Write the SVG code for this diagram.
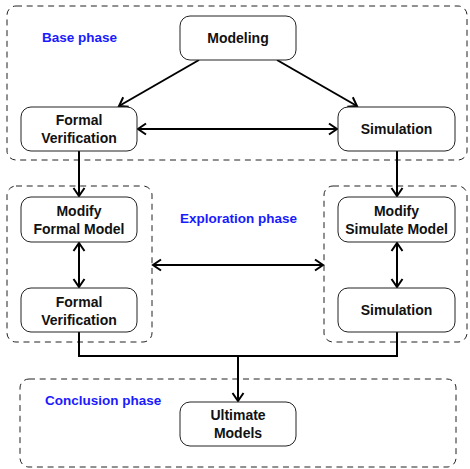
<svg xmlns="http://www.w3.org/2000/svg" width="470" height="469" viewBox="0 0 470 469">
<style>
.phase{fill:none;stroke:#222;stroke-width:1;stroke-dasharray:6,4.7}
.node rect{fill:#fff;stroke:#222;stroke-width:1}
.node text{font-family:"Liberation Sans",Arial,sans-serif;font-weight:bold;font-size:14px;fill:#111;text-anchor:middle}
.label{font-family:"Liberation Sans",Arial,sans-serif;font-weight:bold;font-size:13.5px;fill:#1a1aff}
.conn{fill:none;stroke:#000;stroke-width:2}
</style>
<defs>
<marker id="arr" markerUnits="userSpaceOnUse" markerWidth="12" markerHeight="14" viewBox="-9 -7 12 14" refX="0" refY="0" orient="auto-start-reverse">
<path d="M -8 -5.5 L 0 0 L -8 5.5" fill="none" stroke="#000" stroke-width="2"/>
</marker>
</defs>
<rect width="470" height="469" fill="#fff"/>
<g id="phases">
<rect class="phase" x="7" y="6" width="460" height="154" rx="9"/>
<rect class="phase" x="7" y="186" width="145" height="156" rx="9"/>
<rect class="phase" x="324" y="186" width="143" height="156" rx="9"/>
<rect class="phase" x="20" y="379" width="436" height="88" rx="9"/>
<text class="label" x="42" y="42">Base phase</text>
<text class="label" x="180" y="223">Exploration phase</text>
<text class="label" x="45" y="405">Conclusion phase</text>
</g>
<g id="connectors">
<line class="conn" x1="199" y1="60" x2="119" y2="106" marker-end="url(#arr)"/>
<line class="conn" x1="277" y1="60" x2="357" y2="106" marker-end="url(#arr)"/>
<line class="conn" x1="138" y1="129" x2="337" y2="129" marker-start="url(#arr)" marker-end="url(#arr)"/>
<line class="conn" x1="79" y1="151" x2="79" y2="196" marker-end="url(#arr)"/>
<line class="conn" x1="397" y1="151" x2="397" y2="196" marker-end="url(#arr)"/>
<line class="conn" x1="79" y1="243" x2="79" y2="287" marker-start="url(#arr)" marker-end="url(#arr)"/>
<line class="conn" x1="397" y1="243" x2="397" y2="287" marker-start="url(#arr)" marker-end="url(#arr)"/>
<line class="conn" x1="153" y1="265" x2="323" y2="265" marker-start="url(#arr)" marker-end="url(#arr)"/>
<polyline class="conn" points="79,332 79,356 397,356 397,332"/>
<line class="conn" x1="238" y1="356" x2="238" y2="401" marker-end="url(#arr)"/>
</g>
<g id="modeling" class="node"><rect x="180" y="16" width="116" height="44" rx="10"/><text x="238" y="43">Modeling</text></g>
<g id="fv1" class="node"><rect x="21" y="107" width="116" height="44" rx="10"/><text x="79" y="125">Formal</text><text x="79" y="143">Verification</text></g>
<g id="sim1" class="node"><rect x="338" y="107" width="117" height="44" rx="10"/><text x="396.5" y="134">Simulation</text></g>
<g id="mfm" class="node"><rect x="21" y="197" width="116" height="45" rx="10"/><text x="79" y="216">Modify</text><text x="79" y="234">Formal Model</text></g>
<g id="fv2" class="node"><rect x="21" y="288" width="116" height="44" rx="10"/><text x="79" y="307">Formal</text><text x="79" y="325">Verification</text></g>
<g id="msm" class="node"><rect x="338" y="197" width="117" height="45" rx="10"/><text x="396.5" y="216">Modify</text><text x="396.5" y="234">Simulate Model</text></g>
<g id="sim2" class="node"><rect x="338" y="288" width="117" height="44" rx="10"/><text x="396.5" y="315">Simulation</text></g>
<g id="ultimate" class="node"><rect x="180" y="402" width="116" height="44" rx="10"/><text x="238" y="420">Ultimate</text><text x="238" y="438">Models</text></g>
</svg>
